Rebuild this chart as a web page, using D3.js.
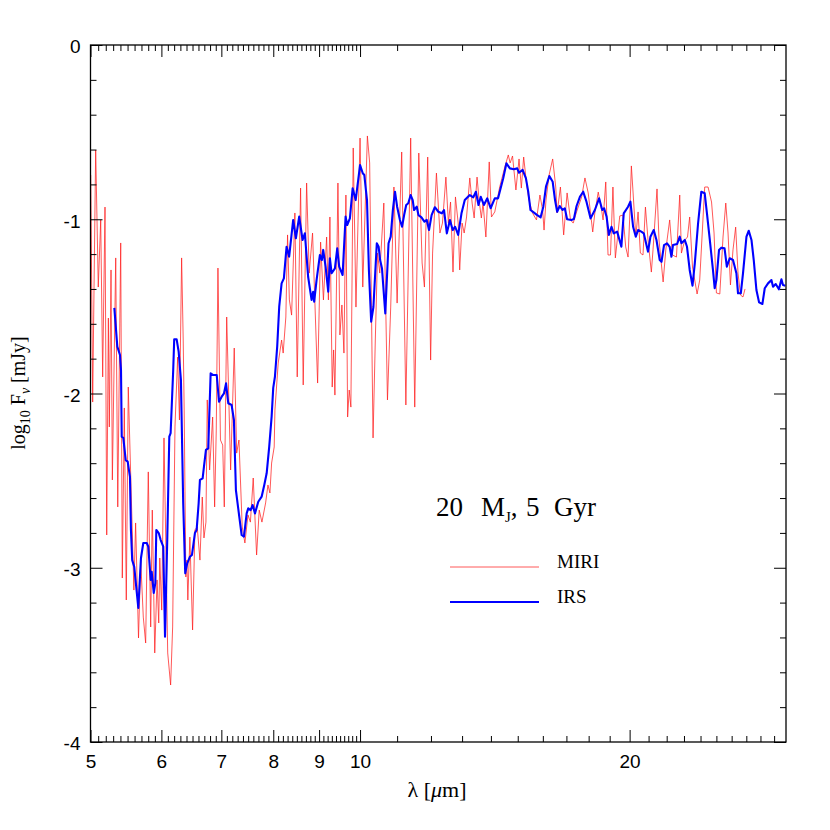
<!DOCTYPE html>
<html>
<head>
<meta charset="utf-8">
<script src="https://cdn.jsdelivr.net/npm/d3@7"></script>
<style>
  html, body { margin: 0; padding: 0; background: #fff; }
  svg { display: block; }
</style>
</head>
<body>
<svg id="chart" width="830" height="830"></svg>
<script>
// ---------------- DATA ----------------
// MIRI (high resolution) spectrum: wavelength [micron], log10 F_nu [mJy]
const miriLambda = [5.003,5.028,5.067,5.101,5.133,5.159,5.190,5.213,5.235,5.248,5.271,5.289,5.335,5.363,5.404,5.426,5.454,5.482,5.510,5.590,5.615,5.657,5.689,5.727,5.762,5.801,5.837,5.861,5.898,5.933,5.959,5.975,6.005,6.040,6.098,6.144,6.176,6.213,6.256,6.285,6.320,6.346,6.362,6.389,6.406,6.422,6.456,6.501,6.540,6.579,6.625,6.665,6.694,6.728,6.751,6.792,6.845,6.880,6.909,6.939,6.984,7.024,7.053,7.097,7.169,7.236,7.281,7.324,7.386,7.437,7.496,7.543,7.598,7.664,7.716,7.770,7.844,7.891,7.931,7.966,8.019,8.034,8.102,8.173,8.206,8.263,8.299,8.338,8.386,8.457,8.508,8.582,8.640,8.716,8.774,8.850,8.966,9.035,9.101,9.176,9.218,9.254,9.309,9.343,9.374,9.447,9.495,9.544,9.594,9.643,9.685,9.725,9.767,9.826,9.895,10.00,10.07,10.19,10.25,10.34,10.40,10.46,10.52,10.63,10.73,10.82,10.91,11.00,11.13,11.25,11.39,11.51,11.63,11.73,11.80,11.90,11.99,12.05,12.17,12.28,12.36,12.47,12.55,12.62,12.70,12.78,12.87,12.92,13.00,13.07,13.15,13.26,13.34,13.41,13.51,13.58,13.66,13.72,13.82,13.94,14.02,14.14,14.32,14.51,14.64,14.71,14.80,14.93,15.05,15.14,15.23,15.35,15.44,15.58,15.74,15.88,15.99,16.05,16.13,16.26,16.41,16.54,16.60,16.74,16.88,17.03,17.18,17.30,17.45,17.68,17.83,17.98,18.19,18.29,18.45,18.61,18.68,18.81,18.92,19.04,19.16,19.28,19.50,19.66,19.80,19.92,20.00,20.09,20.18,20.32,20.44,20.56,20.70,20.83,20.97,21.15,21.24,21.46,21.57,21.80,21.95,22.17,22.33,22.56,22.75,22.85,23.05,23.21,23.34,23.51,23.79,23.95,24.26,24.47,24.69,24.85,25.00,25.22,25.43,25.61,25.76,25.92,26.09,26.27,26.43,26.60,26.77,26.91];
const miriLogF = [-0.746,-2.049,-0.603,-1.389,-1.004,-1.905,-0.930,-2.812,-1.567,-2.192,-1.291,-2.496,-1.222,-2.651,-1.136,-3.059,-2.083,-3.185,-1.963,-3.128,-2.743,-3.403,-2.956,-3.283,-3.432,-2.450,-3.340,-2.669,-3.489,-3.070,-3.317,-2.944,-3.243,-2.255,-3.489,-3.673,-3.340,-2.192,-1.791,-2.152,-1.222,-1.693,-2.095,-3.053,-2.956,-3.185,-2.824,-3.357,-2.783,-2.766,-2.956,-2.594,-2.829,-2.738,-2.037,-2.439,-2.135,-2.651,-2.210,-1.280,-2.267,-2.296,-2.651,-1.561,-2.439,-1.739,-2.342,-2.267,-2.766,-2.858,-2.697,-2.738,-2.485,-2.927,-2.669,-2.738,-2.628,-2.525,-2.571,-2.399,-2.307,-2.095,-1.825,-1.693,-1.768,-1.561,-1.090,-1.463,-1.550,-0.964,-1.905,-0.821,-1.951,-0.792,-1.309,-1.079,-1.940,-1.131,-1.463,-1.102,-1.463,-0.987,-1.963,-1.750,-2.009,-0.792,-1.664,-1.492,-1.768,-0.861,-2.135,-1.980,-2.078,-0.591,-1.504,-0.534,-1.389,-0.522,-0.677,-2.255,-1.693,-1.194,-1.309,-0.907,-2.037,-1.504,-0.815,-1.481,-0.614,-2.066,-0.534,-2.078,-0.620,-1.251,-1.389,-0.643,-1.808,-1.194,-0.735,-1.079,-1.022,-0.758,-1.022,-0.901,-1.303,-0.872,-1.022,-1.291,-1.022,-1.079,-0.987,-0.763,-0.907,-0.993,-0.758,-0.890,-0.993,-0.907,-1.102,-0.671,-0.987,-0.958,-0.815,-0.700,-0.631,-0.677,-0.637,-0.832,-0.654,-0.821,-0.643,-0.803,-0.890,-0.964,-1.004,-0.861,-0.947,-1.062,-0.890,-0.746,-0.654,-0.815,-0.964,-0.815,-1.090,-0.849,-1.004,-1.022,-0.958,-0.872,-0.763,-0.849,-1.073,-0.964,-0.844,-0.947,-1.004,-0.786,-1.205,-1.205,-0.815,-1.222,-0.981,-0.976,-1.159,-1.217,-1.004,-0.694,-0.849,-1.102,-0.958,-1.194,-1.205,-0.930,-1.119,-1.303,-1.176,-0.826,-1.119,-1.360,-1.176,-1.004,-1.205,-1.217,-0.861,-1.194,-1.119,-1.102,-0.987,-1.274,-1.429,-1.349,-0.815,-0.815,-0.901,-1.079,-1.423,-1.429,-1.102,-0.907,-1.079,-1.377,-1.176,-1.045,-1.309,-1.435,-1.446,-1.400];

// IRS (low resolution) spectrum
const irsLambda = [5.316,5.357,5.394,5.408,5.418,5.440,5.474,5.502,5.534,5.548,5.566,5.595,5.654,5.693,5.727,5.778,5.801,5.837,5.852,5.883,5.907,5.922,5.959,5.989,6.029,6.056,6.092,6.123,6.144,6.185,6.201,6.240,6.272,6.309,6.346,6.379,6.412,6.456,6.490,6.540,6.569,6.603,6.625,6.671,6.694,6.728,6.768,6.810,6.856,6.917,6.958,7.006,7.048,7.085,7.126,7.187,7.230,7.267,7.330,7.375,7.419,7.471,7.501,7.547,7.586,7.632,7.697,7.764,7.817,7.865,7.917,7.966,7.999,8.034,8.081,8.123,8.173,8.221,8.278,8.333,8.420,8.479,8.551,8.626,8.677,8.750,8.828,8.864,8.887,8.942,9.019,9.065,9.096,9.152,9.214,9.254,9.295,9.374,9.430,9.478,9.561,9.635,9.675,9.742,9.811,9.888,10.00,10.07,10.11,10.18,10.23,10.29,10.35,10.44,10.49,10.53,10.58,10.67,10.76,10.82,10.88,10.94,11.00,11.08,11.14,11.20,11.26,11.32,11.39,11.45,11.49,11.57,11.62,11.71,11.80,11.87,11.94,12.02,12.12,12.23,12.34,12.41,12.50,12.60,12.69,12.77,12.87,12.98,13.09,13.26,13.38,13.47,13.56,13.64,13.75,13.87,13.99,14.14,14.26,14.45,14.57,14.70,14.85,14.98,15.05,15.19,15.32,15.41,15.50,15.64,15.77,15.91,16.02,16.13,16.27,16.41,16.51,16.60,16.71,16.83,16.93,17.03,17.22,17.33,17.45,17.60,17.75,17.90,18.09,18.29,18.49,18.64,18.73,18.85,18.96,19.09,19.20,19.37,19.58,19.70,19.92,20.04,20.18,20.32,20.44,20.61,20.74,20.97,21.10,21.28,21.43,21.61,21.71,21.85,22.02,22.17,22.27,22.36,22.60,22.75,22.85,23.05,23.18,23.34,23.51,23.65,23.85,24.05,24.26,24.40,24.58,24.78,24.89,25.00,25.17,25.32,25.53,25.68,25.87,26.09,26.32,26.43,26.62,26.77,27.01,27.17,27.36,27.52,27.71,27.90,28.14,28.31,28.55,28.80,28.92,29.12,29.36,29.55,29.67,29.85];
const irsLogF = [-1.509,-1.731,-1.779,-1.865,-2.248,-2.255,-2.382,-2.391,-2.478,-2.783,-2.956,-2.994,-3.231,-2.944,-2.858,-2.858,-2.879,-3.070,-3.023,-3.145,-3.088,-2.783,-2.801,-2.841,-2.879,-3.396,-2.822,-2.248,-2.227,-1.865,-1.689,-1.689,-1.760,-1.923,-2.630,-3.032,-2.975,-2.937,-2.927,-2.801,-2.783,-2.630,-2.496,-2.487,-2.420,-2.324,-2.315,-1.884,-1.894,-1.894,-2.047,-2.018,-1.999,-1.942,-2.056,-2.066,-2.152,-2.554,-2.707,-2.812,-2.822,-2.688,-2.659,-2.669,-2.640,-2.688,-2.621,-2.592,-2.525,-2.458,-2.305,-2.133,-1.968,-1.904,-1.731,-1.502,-1.368,-1.339,-1.158,-1.215,-1.004,-1.109,-0.985,-1.119,-1.081,-1.330,-1.463,-1.416,-1.473,-1.349,-1.205,-1.234,-1.176,-1.272,-1.416,-1.224,-1.310,-1.282,-1.167,-1.272,-1.320,-0.985,-1.033,-0.995,-0.822,-0.890,-0.689,-0.736,-0.746,-0.890,-1.291,-1.588,-1.502,-1.138,-1.158,-1.234,-1.282,-1.540,-1.138,-1.100,-0.947,-0.842,-0.928,-1.004,-1.043,-0.976,-0.918,-0.908,-0.861,-0.890,-0.947,-0.928,-0.976,-0.989,-1.014,-1.004,-1.062,-0.976,-0.931,-0.957,-0.966,-0.947,-1.081,-1.004,-1.062,-1.043,-1.090,-0.966,-0.890,-0.861,-0.874,-0.842,-0.918,-0.871,-0.918,-0.880,-0.937,-0.880,-0.880,-0.765,-0.679,-0.708,-0.713,-0.708,-0.733,-0.717,-0.765,-0.842,-0.947,-0.962,-0.976,-0.989,-0.928,-0.813,-0.752,-0.785,-0.890,-0.957,-0.924,-0.947,-0.937,-1.000,-1.004,-0.999,-0.924,-0.871,-0.842,-0.899,-0.995,-0.947,-0.880,-0.947,-0.937,-0.985,-1.090,-1.043,-1.081,-1.071,-1.158,-0.966,-0.928,-0.899,-1.043,-1.100,-1.062,-1.071,-1.081,-1.186,-1.100,-1.062,-1.119,-1.234,-1.244,-1.148,-1.138,-1.158,-1.215,-1.148,-1.142,-1.100,-1.138,-1.119,-1.158,-1.291,-1.381,-1.253,-1.023,-0.842,-0.851,-0.966,-1.119,-1.291,-1.396,-1.349,-1.176,-1.163,-1.167,-1.272,-1.224,-1.234,-1.310,-1.425,-1.425,-1.310,-1.100,-1.066,-1.119,-1.234,-1.406,-1.477,-1.486,-1.396,-1.368,-1.349,-1.387,-1.372,-1.402,-1.345,-1.377,-1.381];

// Axis ticks
const xMajorTicks = [5, 6, 7, 8, 9, 10, 20];
const xMinorTicks = [5.1,5.2,5.3,5.4,5.5,5.6,5.7,5.8,5.9,6.1,6.2,6.3,6.4,6.5,6.6,6.7,6.8,6.9,7.1,7.2,7.3,7.4,7.5,7.6,7.7,7.8,7.9,8.1,8.2,8.3,8.4,8.5,8.6,8.7,8.8,8.9,9.1,9.2,9.3,9.4,9.5,9.6,9.7,9.8,9.9,11,12,13,14,15,16,17,18,19,21,22,23,24,25,26,27,28,29];
const yMajorTicks = [0, -1, -2, -3, -4];
const yMinorTicks = [-0.2,-0.4,-0.6,-0.8,-1.2,-1.4,-1.6,-1.8,-2.2,-2.4,-2.6,-2.8,-3.2,-3.4,-3.6,-3.8];

const seriesNames = ["MIRI", "IRS"];

// ---------------- LAYOUT ----------------
const L = 90.5, R = 786, T = 45, B = 742;
const svg = d3.select("#chart");
const x = d3.scaleLog().domain([5, 29.9]).range([L, R]);
const y = d3.scaleLinear().domain([-4, 0]).range([B, T]);

const miri = miriLambda.map((l, i) => [l, miriLogF[i]]);
const irs = irsLambda.map((l, i) => [l, irsLogF[i]]);

const line = d3.line().x(d => x(d[0])).y(d => y(d[1]));

svg.append("defs").append("clipPath").attr("id", "clip")
  .append("rect").attr("x", L).attr("y", T).attr("width", R - L).attr("height", B - T);

const plot = svg.append("g").attr("clip-path", "url(#clip)");
plot.append("path").datum(miri).attr("d", line)
  .attr("fill", "none").attr("stroke", "#ff2020").attr("stroke-width", 0.75)
  .attr("stroke-linejoin", "round");
plot.append("path").datum(irs).attr("d", line)
  .attr("fill", "none").attr("stroke", "#0000ff").attr("stroke-width", 2.1)
  .attr("stroke-linejoin", "round");

// ---------------- AXES ----------------
const tickFont = "'Liberation Sans', Arial, Helvetica, sans-serif";
function style(g) {
  g.select(".domain").remove();
  g.selectAll(".tick line").attr("stroke", "#000").attr("stroke-width", 1);
}
// bottom
svg.append("g").attr("transform", `translate(0,${B})`)
  .call(d3.axisBottom(x).tickValues(xMajorTicks).tickSize(-12).tickPadding(13).tickFormat(d => String(d)))
  .call(style)
  .call(g => g.selectAll("text").attr("font-family", tickFont).attr("font-size", 19).attr("fill", "#000"));
svg.append("g").attr("transform", `translate(0,${B})`)
  .call(d3.axisBottom(x).tickValues(xMinorTicks).tickSize(-6).tickFormat(""))
  .call(style);
// top
svg.append("g").attr("transform", `translate(0,${T})`)
  .call(d3.axisTop(x).tickValues(xMajorTicks).tickSize(-12).tickFormat(""))
  .call(style);
svg.append("g").attr("transform", `translate(0,${T})`)
  .call(d3.axisTop(x).tickValues(xMinorTicks).tickSize(-6).tickFormat(""))
  .call(style);
// left
svg.append("g").attr("transform", `translate(${L},0)`)
  .call(d3.axisLeft(y).tickValues(yMajorTicks).tickSize(-12).tickPadding(10).tickFormat(d => String(d)))
  .call(style)
  .call(g => g.selectAll("text").attr("font-family", tickFont).attr("font-size", 19).attr("fill", "#000").attr("dy", "0.42em"));
svg.append("g").attr("transform", `translate(${L},0)`)
  .call(d3.axisLeft(y).tickValues(yMinorTicks).tickSize(-6).tickFormat(""))
  .call(style);
// right
svg.append("g").attr("transform", `translate(${R},0)`)
  .call(d3.axisRight(y).tickValues(yMajorTicks).tickSize(-12).tickFormat(""))
  .call(style);
svg.append("g").attr("transform", `translate(${R},0)`)
  .call(d3.axisRight(y).tickValues(yMinorTicks).tickSize(-6).tickFormat(""))
  .call(style);

// frame
svg.append("rect").attr("x", L).attr("y", T).attr("width", R - L).attr("height", B - T)
  .attr("fill", "none").attr("stroke", "#000").attr("stroke-width", 1.3);

// ---------------- LABELS ----------------
const serif = "'Liberation Serif', 'DejaVu Serif', 'Times New Roman', serif";
const xl = svg.append("text").attr("x", 437).attr("y", 797).attr("text-anchor", "middle")
  .attr("font-family", serif).attr("font-size", 22).attr("fill", "#000");
xl.append("tspan").text("λ  [");
xl.append("tspan").attr("font-style", "italic").text("μ");
xl.append("tspan").text("m]");

const yl = svg.append("text").attr("transform", "translate(25,393) rotate(-90)")
  .attr("text-anchor", "middle").attr("font-family", serif).attr("font-size", 20).attr("fill", "#000");
yl.append("tspan").text("log");
yl.append("tspan").attr("font-size", 14).attr("dy", 5).text("10");
yl.append("tspan").attr("dy", -5).text("  F");
yl.append("tspan").attr("font-size", 14).attr("dy", 5).attr("font-style", "italic").text("ν");
yl.append("tspan").attr("dy", -5).text("  [mJy]");

// Legend title
const lt = svg.append("text").attr("y", 516)
  .attr("font-family", serif).attr("font-size", 27).attr("fill", "#000");
lt.append("tspan").attr("x", 436).text("20");
lt.append("tspan").attr("x", 481).text("M");
lt.append("tspan").attr("font-size", 15).attr("dy", 6).text("J");
lt.append("tspan").attr("dy", -6).text(",");
lt.append("tspan").attr("x", 526).text("5");
lt.append("tspan").attr("x", 554).text("Gyr");

// Legend entries
const legendColors = ["#ff2020", "#0000ff"];
const legendWidths = [0.75, 2.1];
const legendY = [567, 602];
seriesNames.forEach((name, i) => {
  svg.append("line").attr("x1", 450).attr("x2", 539).attr("y1", legendY[i]).attr("y2", legendY[i])
    .attr("stroke", legendColors[i]).attr("stroke-width", legendWidths[i]);
  svg.append("text").attr("x", 557).attr("y", legendY[i] + 1)
    .attr("font-family", serif).attr("font-size", 19).attr("fill", "#000").text(name);
});
</script>
</body>
</html>
